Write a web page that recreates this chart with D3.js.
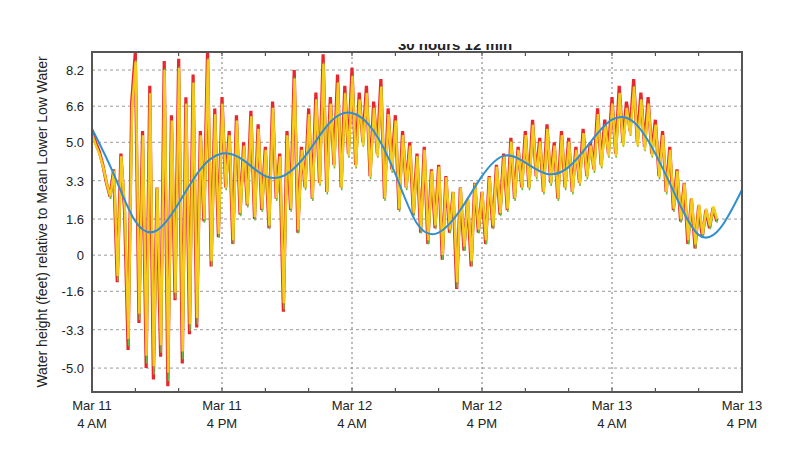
<!DOCTYPE html><html><head><script src="https://cdn.jsdelivr.net/npm/d3@7"></script>
<style>body{margin:0;background:#fff}text{font-family:"Liberation Sans",Arial,sans-serif}</style></head><body><svg id="c" width="800" height="464"></svg><script>
const yTicks=[8.2,6.6,5.0,3.3,1.6,0,-1.6,-3.3,-5.0];
const xTickHours=[0,12,24,36,48,60];
const xTickLabels=[["Mar 11","4 AM"],["Mar 11","4 PM"],["Mar 12","4 AM"],["Mar 12","4 PM"],["Mar 13","4 AM"],["Mar 13","4 PM"]];
const observedStepHours=1/3;
const observed=[5.5,5.0,4.6,4.0,3.2,2.6,3.8,-1.2,4.5,2.0,-4.2,6.8,9.0,-3.0,5.5,-5.0,7.5,-5.5,3.0,-4.5,8.6,-5.8,6.2,-2.0,8.7,-4.8,7.0,-3.5,8.0,-3.2,5.5,1.5,9.1,-0.5,6.5,0.8,7.0,3.0,5.5,0.5,6.2,1.8,5.0,2.2,6.4,1.6,5.8,2.0,4.8,1.2,6.8,2.5,4.5,-2.5,5.5,2.0,8.2,1.0,4.8,3.0,6.5,2.5,7.2,3.2,8.9,2.8,7.0,4.0,8.0,3.0,7.5,4.5,8.3,4.0,7.2,5.0,7.5,3.5,6.8,4.5,7.8,2.5,6.5,3.8,6.2,2.0,5.5,3.0,5.0,1.8,4.5,1.0,4.8,0.5,3.8,1.2,4.0,-0.2,3.5,1.0,2.8,-1.5,3.0,0.2,2.5,-0.5,3.2,1.0,2.8,0.5,3.5,1.2,4.0,1.8,4.5,2.0,5.2,2.5,4.8,3.0,5.5,3.0,6.0,3.5,5.2,2.8,5.8,3.2,5.0,2.5,5.5,3.0,5.2,2.8,4.8,3.2,5.6,3.5,5.0,3.8,6.5,4.0,6.0,4.5,7.0,4.5,7.5,5.0,6.8,5.5,7.8,5.0,7.2,4.8,7.0,4.5,6.0,3.5,5.5,2.8,4.8,2.0,3.8,1.5,3.2,0.5,2.5,0.3,2.2,0.8,2.0,1.2,2.1,1.5];
const predHours=[0,2,4,6,8,10,12,14,16,18,20,22,24,26,28,30,32,34,36,38,40,42,44,46,48,50,52,54,56,58,60];
const predicted=[5.6,3.6,1.5,1.1,2.3,3.8,4.5,4.2,3.5,3.6,4.6,5.9,6.3,5.5,3.6,1.4,1.0,2.0,3.5,4.4,4.1,3.6,3.9,5.0,6.0,5.9,4.5,2.5,0.9,1.2,2.9];
const svg=d3.select("#c"),L=92,R=742,T=52,B=392;
const x=d3.scaleLinear().domain([0,60]).range([L,R]);
const y=d3.scaleLinear().domain([-6.06,9.0]).range([B,T]);
svg.append("clipPath").attr("id","pc").append("rect").attr("x",L).attr("y",T).attr("width",R-L).attr("height",B-T);
svg.append("clipPath").attr("id","tc").append("rect").attr("x",0).attr("y",44).attr("width",800).attr("height",8);
svg.append("text").attr("clip-path","url(#tc)").attr("x",455).attr("y",50).attr("text-anchor","middle").attr("font-weight","bold").attr("font-size",15).attr("fill","#222").text("30 hours 12 min");
const g=svg.append("g");
yTicks.forEach(v=>{g.append("line").attr("x1",L).attr("x2",R).attr("y1",y(v)).attr("y2",y(v)).attr("stroke","#999").attr("stroke-dasharray","3,3");
 svg.append("text").attr("x",L-8).attr("y",y(v)+5).attr("text-anchor","end").attr("font-size",13).attr("fill","#222").text(v.toFixed(1)==="0.0"?"0":v.toFixed(1));});
xTickHours.slice(1,-1).forEach(h=>g.append("line").attr("x1",x(h)).attr("x2",x(h)).attr("y1",T).attr("y2",B).attr("stroke","#777").attr("stroke-dasharray","2,3"));
d3.range(0,61,4).forEach(h=>{svg.append("line").attr("x1",x(h)).attr("x2",x(h)).attr("y1",B).attr("y2",B-4).attr("stroke","#333");svg.append("line").attr("x1",x(h)).attr("x2",x(h)).attr("y1",T).attr("y2",T+4).attr("stroke","#333");});
xTickHours.forEach((h,i)=>{const t=svg.append("text").attr("text-anchor","middle").attr("font-size",13).attr("fill","#222");
 t.append("tspan").attr("x",x(h)).attr("y",410).text(xTickLabels[i][0]);t.append("tspan").attr("x",x(h)).attr("y",428).text(xTickLabels[i][1]);});
const pts=observed.map((v,i)=>[i*observedStepHours,v]);
const ln=d3.line().x(d=>x(d[0])).y(d=>y(d[1]));
const pc=svg.append("g").attr("clip-path","url(#pc)");
pc.append("path").attr("d",ln(pts)).attr("fill","none").attr("stroke","#e8262b").attr("stroke-width",3.2);
pc.append("path").attr("d",ln(pts.map(d=>[d[0]+0.05,d[1]*0.96]))).attr("fill","none").attr("stroke","#6dbb3c").attr("stroke-width",1.5);
pc.append("path").attr("d",ln(pts.map(d=>[d[0]+0.03,d[1]*0.93+0.2]))).attr("fill","none").attr("stroke","#f6cc1a").attr("stroke-width",2.4);
pc.append("path").attr("d",d3.line().curve(d3.curveNatural).x((d,i)=>x(predHours[i])).y(d=>y(d))(predicted)).attr("fill","none").attr("stroke","#2f8fd0").attr("stroke-width",2);
svg.append("rect").attr("x",L).attr("y",T).attr("width",R-L).attr("height",B-T).attr("fill","none").attr("stroke","#555").attr("stroke-width",2);
svg.append("text").attr("transform","translate(47,"+(T+B)/2+") rotate(-90)").attr("text-anchor","middle").attr("font-size",14).attr("fill","#222").text("Water height (feet) relative to Mean Lower Low Water");
</script></body></html>
